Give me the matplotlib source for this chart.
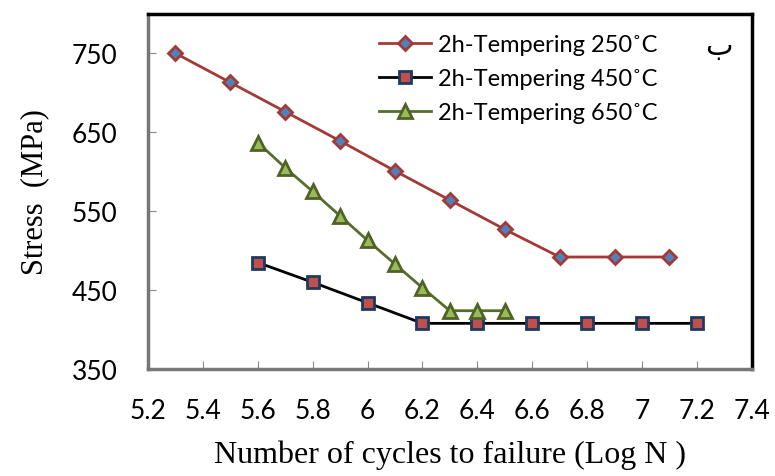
import matplotlib
matplotlib.use("Agg")
import matplotlib.pyplot as plt

# data
x_250 = [5.3, 5.5, 5.7, 5.9, 6.1, 6.3, 6.5, 6.7, 6.9, 7.1]
y_250 = [750, 713, 676, 639, 601, 564, 527, 492, 492, 492]

x_450 = [5.6, 5.8, 6.0, 6.2, 6.4, 6.6, 6.8, 7.0, 7.2]
y_450 = [485, 460, 434, 408, 408, 408, 408, 408, 408]

x_650 = [5.6, 5.7, 5.8, 5.9, 6.0, 6.1, 6.2, 6.3, 6.4, 6.5]
y_650 = [637, 605, 575, 544, 513, 483, 453, 424, 424, 424]

labels = ["2h-Tempering 250˚C", "2h-Tempering 450˚C", "2h-Tempering 650˚C"]
x_ticks = [5.2, 5.4, 5.6, 5.8, 6.0, 6.2, 6.4, 6.6, 6.8, 7.0, 7.2, 7.4]
x_tick_labels = ["5.2", "5.4", "5.6", "5.8", "6", "6.2", "6.4", "6.6", "6.8", "7", "7.2", "7.4"]
y_ticks = [350, 450, 550, 650, 750]

fig = plt.figure(figsize=(7.75, 4.77), dpi=100)
ax = fig.add_axes([0.191, 0.224, 0.779, 0.745])

ax.plot(x_250, y_250, color="#A33A36", lw=2, marker="D", markersize=7,
        markerfacecolor="#4F81BD", markeredgecolor="#A33A36", markeredgewidth=2, label=labels[0])
ax.plot(x_450, y_450, color="black", lw=2, marker="s", markersize=9,
        markerfacecolor="#C0504D", markeredgecolor="#1F3A5F", markeredgewidth=2, label=labels[1])
ax.plot(x_650, y_650, color="#566E2B", lw=2, marker="^", markersize=10,
        markerfacecolor="#9BBB59", markeredgecolor="#4F6228", markeredgewidth=2, label=labels[2])

ax.set_xlim(5.2, 7.4)
ax.set_ylim(350, 800)
ax.set_xticks(x_ticks)
ax.set_xticklabels(x_tick_labels)
ax.set_yticks(y_ticks)

ax.tick_params(direction="in", length=6, color="#888888", labelsize=19)
ax.tick_params(axis="x", pad=21)
ax.tick_params(axis="y", pad=22)
for lab in ax.get_xticklabels() + ax.get_yticklabels():
    lab.set_family("Lato")

for side in ["top", "right"]:
    ax.spines[side].set_linewidth(2.5)
    ax.spines[side].set_color("black")
for side in ["left", "bottom"]:
    ax.spines[side].set_linewidth(2.5)
    ax.spines[side].set_color("#777777")

ax.set_ylabel("Stress  (MPa)", family="Liberation Serif", fontsize=22, labelpad=16)
ax.set_xlabel("Number of cycles to failure (Log N )", family="Liberation Serif", fontsize=23, labelpad=12)

leg = ax.legend(loc="upper left", bbox_to_anchor=(0.35, 1.0), frameon=False,
                prop={"family": "Lato", "size": 17}, handlelength=2.2,
                labelspacing=0.55, handletextpad=0.3, borderaxespad=0.45)

ax.text(0.945, 0.91, "ب", transform=ax.transAxes, fontsize=21,
        family="DejaVu Sans", ha="center", va="center")

fig.savefig("out.png", dpi=100)
